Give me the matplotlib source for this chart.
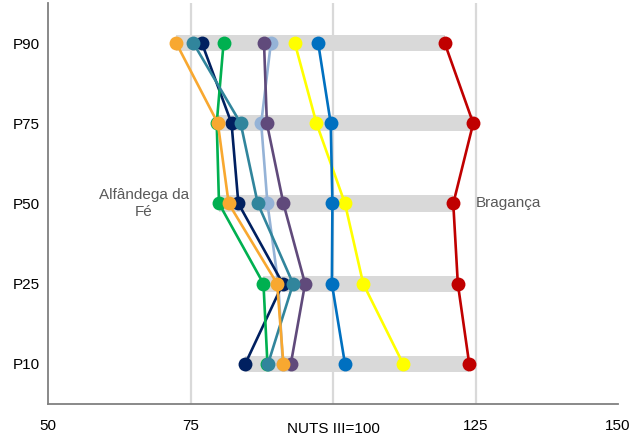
import numpy as np
import matplotlib
matplotlib.use('Agg')
import matplotlib.pyplot as plt

plt.rcParams['font.family'] = ['Liberation Sans', 'DejaVu Sans']

# Percentis (de baixo para cima)
categorias = ['P10', 'P25', 'P50', 'P75', 'P90']

# Valores por série (NUTS III = 100), ordem P10..P90
vals_vermelho = [123.9, 121.9, 121.1, 124.6, 119.6]
vals_amarelo = [112.3, 105.3, 102.1, 97.1, 93.3]
vals_azul = [102.1, 99.8, 99.9, 99.6, 97.4]
vals_azul_claro = [91.2, 90.4, 88.5, 87.4, 89.1]
vals_roxo = [92.6, 95.1, 91.3, 88.4, 87.9]
vals_marinho = [84.6, 91.2, 83.4, 82.2, 77.0]
vals_verde = [88.5, 87.8, 80.0, 79.6, 80.8]
vals_petroleo = [88.6, 93.0, 86.8, 83.8, 75.5]
vals_laranja = [91.3, 90.2, 81.7, 79.8, 72.5]

x_ticks = [50, 75, 125, 150]
x_ticklabels = ['50', '75', '125', '150']
grid_x = [75, 100, 125]

series = [
    (vals_vermelho, '#C00000'),
    (vals_amarelo, '#FFFF00'),
    (vals_azul, '#0070C0'),
    (vals_azul_claro, '#95B3D7'),
    (vals_roxo, '#604A7B'),
    (vals_marinho, '#002060'),
    (vals_verde, '#00B050'),
    (vals_petroleo, '#31859C'),
    (vals_laranja, '#F8A830'),
]

fig = plt.figure(figsize=(6.44, 4.36), dpi=100)
ax = fig.add_axes([48 / 644, 32 / 436, 570 / 644, 401 / 436])

y = np.arange(len(categorias))

# Linhas de grelha verticais
for gx in grid_x:
    ax.axvline(gx, color='#D9D9D9', linewidth=1.6, zorder=0)

# Barras cinzentas do mínimo ao máximo
todos = np.array([s[0] for s in series])
minimos = todos.min(axis=0)
maximos = todos.max(axis=0)
ax.barh(y, maximos - minimos, left=minimos, height=0.2, color='#D9D9D9', zorder=1)

# Séries
for i, (vals, cor) in enumerate(series):
    ax.plot(vals, y, color=cor, linewidth=1.9, marker='o', markersize=10,
            markeredgewidth=0, zorder=2 + i)

ax.set_xlim(50, 150)
ax.set_ylim(-0.5, 4.5)
ax.set_yticks(y)
ax.set_yticklabels(categorias, fontsize=11)
ax.set_xticks(x_ticks)
ax.set_xticklabels(x_ticklabels, fontsize=11)
ax.tick_params(axis='y', length=0, pad=6)
ax.tick_params(axis='x', length=0, pad=11)

# Rótulo do eixo na posição 100
ax.text(100, -0.5 - 18 / 80.2, 'NUTS III=100', ha='center', va='top',
        fontsize=11, color='black')

for lado in ['top', 'right']:
    ax.spines[lado].set_visible(False)
for lado in ['left', 'bottom']:
    ax.spines[lado].set_color('#808080')
    ax.spines[lado].set_linewidth(1.3)

# Rótulos dos extremos
ax.text(66.8, 2, 'Alfândega da\nFé', ha='center', va='center', multialignment='center',
        fontsize=11, color='#595959')
ax.text(125.1, 2, 'Bragança', ha='left', va='center', fontsize=11, color='#595959')

plt.savefig('out.png', dpi=100)
